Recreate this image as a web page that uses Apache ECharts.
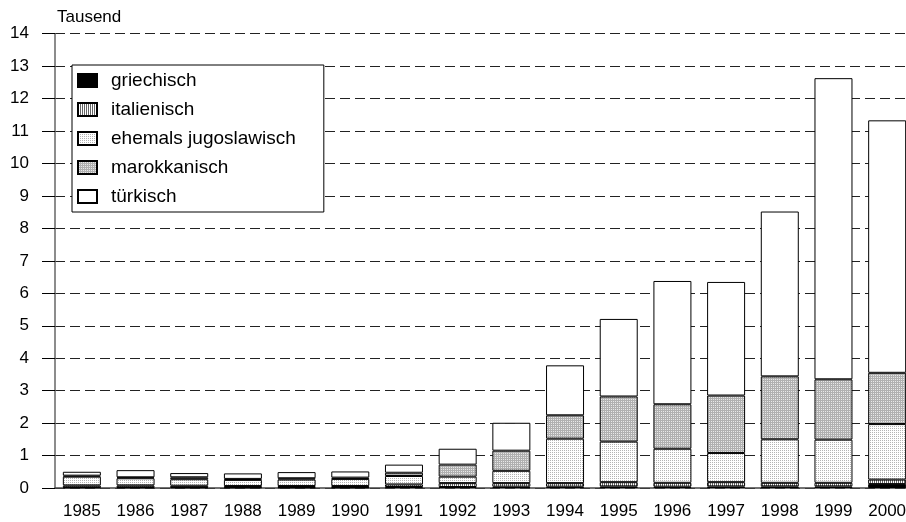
<!DOCTYPE html>
<html><head><meta charset="utf-8">
<script src="https://cdn.jsdelivr.net/npm/echarts@6/dist/echarts.min.js"></script>
<style>html,body{margin:0;padding:0;background:#fff}#c{width:906px;height:522px}</style>
</head><body><div id="c"></div>
<script>
const years = ['1985','1986','1987','1988','1989','1990','1991','1992','1993','1994','1995','1996','1997','1998','1999','2000'];
const yTicks = [0,1,2,3,4,5,6,7,8,9,10,11,12,13,14];
const griechisch   = [0.02,0.02,0.02,0.02,0.02,0.02,0.03,0.03,0.04,0.04,0.05,0.04,0.05,0.05,0.05,0.12];
const italienisch  = [0.06,0.06,0.05,0.04,0.04,0.04,0.08,0.12,0.11,0.11,0.13,0.12,0.13,0.11,0.11,0.14];
const jugoslawisch = [0.27,0.22,0.20,0.19,0.20,0.22,0.26,0.20,0.38,1.37,1.25,1.05,0.90,1.34,1.33,1.71];
const marokkanisch = [0.03,0.03,0.06,0.03,0.04,0.04,0.10,0.37,0.62,0.72,1.39,1.37,1.77,1.94,1.86,1.58];
const tuerkisch    = [0.12,0.22,0.13,0.17,0.19,0.19,0.25,0.49,0.86,1.54,2.39,3.80,3.50,5.08,9.28,7.78];

function pattern(w, h, bg, fg, pts) {
  const c = document.createElement('canvas');
  c.width = w; c.height = h;
  const g = c.getContext('2d');
  g.fillStyle = bg; g.fillRect(0, 0, w, h);
  g.fillStyle = fg;
  pts.forEach(p => g.fillRect(p[0], p[1], 1, 1));
  return { image: c, repeat: 'repeat' };
}
const patItal = pattern(2, 1, '#ffffff', '#666666', [[0,0]]);
const patJug  = pattern(2, 2, '#ffffff', '#b4b4b4', [[0,0]]);
const patMar  = pattern(2, 2, '#b0b0b0', '#e8e8e8', [[1,1]]);

const names = ['griechisch','italienisch','ehemals jugoslawisch','marokkanisch','türkisch'];
const datas = [griechisch, italienisch, jugoslawisch, marokkanisch, tuerkisch];
const colors = ['#000000', patItal, patJug, patMar, '#ffffff'];

const chart = echarts.init(document.getElementById('c'), null, {renderer: 'canvas'});
const font = '"Liberation Sans", Arial, sans-serif';
chart.setOption({
  animation: false,
  backgroundColor: '#fff',
  grid: { left: 55, right: -8, top: 33.7, bottom: 34, containLabel: false, outerBoundsMode: 'none' },
  graphic: [{ type: 'text', left: 57, top: 9, style: { text: 'Tausend', font: '17px ' + font, fill: '#000' } }],
  legend: {
    orient: 'vertical', left: 72, top: 65,
    padding: [6, 28, 6, 5],
    itemGap: 10, itemWidth: 19, itemHeight: 13,
    icon: 'rect',
    backgroundColor: '#fff', borderColor: '#000', borderWidth: 1,
    textStyle: { fontFamily: font, fontSize: 19, color: '#000', lineHeight: 19, padding: [0,0,0,9] },
    data: names
  },
  xAxis: {
    type: 'category', data: years,
    axisLine: { lineStyle: { color: '#444', width: 1.5 } },
    axisTick: { show: false },
    axisLabel: { color: '#000', fontFamily: font, fontSize: 17, margin: 15, interval: 0 },
    splitLine: { show: false }
  },
  yAxis: {
    type: 'value', min: 0, max: 14, interval: 1,
    axisLine: { show: true, lineStyle: { color: '#666', width: 1.5 } },
    axisTick: { show: true, length: 13, lineStyle: { color: '#000' } },
    axisLabel: { color: '#000', fontFamily: font, fontSize: 17, margin: 26,
      formatter: v => yTicks.includes(v) ? String(v) : '' },
    splitLine: { show: true, lineStyle: { color: '#222', type: [10, 5], width: 1 } }
  },
  series: names.map((n, i) => ({
    name: n, type: 'bar', stack: 'all', data: datas[i], barWidth: 38,
    itemStyle: { color: colors[i], borderColor: '#000', borderWidth: 1 },
    emphasis: { disabled: true }
  }))
});
</script></body></html>
